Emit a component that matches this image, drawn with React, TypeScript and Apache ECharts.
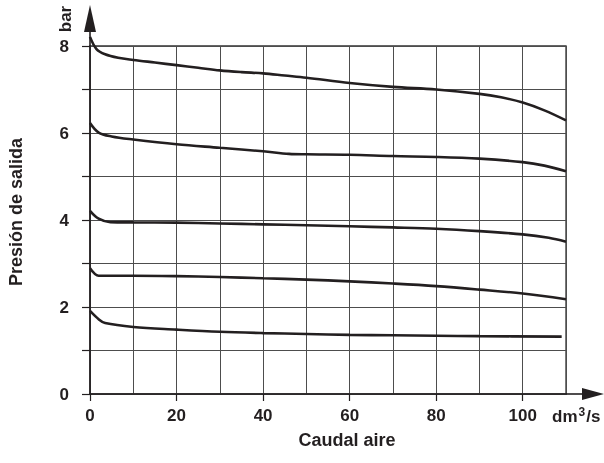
import React, { useEffect, useRef } from "react";
import * as echarts from "echarts";

// Axis ticks / labels
const xTickLabels = [0, 20, 40, 60, 80, 100];
const yTickLabels = [0, 2, 4, 6, 8];
const xMax = 110;
const yMax = 8;

// Curves: [caudal (dm3/s), presión (bar)]
const curve8: number[][] = [
  [0, 8.21], [1.5, 7.93], [3.5, 7.81], [6.5, 7.73], [10, 7.68], [15, 7.62], [20, 7.56],
  [25, 7.5], [30, 7.44], [35, 7.4], [40, 7.37], [45, 7.32], [50, 7.27], [60, 7.15],
  [70, 7.06], [80, 7.0], [90, 6.9], [95, 6.82], [100, 6.7], [105, 6.52], [110, 6.29],
];
const curve6: number[][] = [
  [0, 6.23], [2, 6.01], [5, 5.92], [10, 5.85], [20, 5.74], [30, 5.66], [40, 5.58],
  [46, 5.52], [50, 5.51], [60, 5.5], [70, 5.47], [80, 5.45], [90, 5.41], [100, 5.33], [105, 5.25], [110, 5.12],
];
const curve4: number[][] = [
  [0, 4.21], [2, 4.03], [4.7, 3.95], [10, 3.945], [20, 3.94], [30, 3.92], [40, 3.9],
  [50, 3.88], [60, 3.855], [70, 3.83], [80, 3.8], [90, 3.745], [100, 3.67], [106, 3.59], [110, 3.5],
];
const curve3: number[][] = [
  [0, 2.89], [2, 2.72], [4, 2.72], [10, 2.72], [20, 2.71], [30, 2.69], [40, 2.66],
  [50, 2.63], [60, 2.59], [70, 2.54], [80, 2.48], [90, 2.4], [100, 2.31], [110, 2.18],
];
const curve2: number[][] = [
  [0, 1.91], [2, 1.72], [3.5, 1.63], [10, 1.54], [20, 1.48], [30, 1.43], [40, 1.4],
  [50, 1.38], [60, 1.36], [70, 1.35], [80, 1.34], [90, 1.33], [109, 1.32],
];
const curves = [curve8, curve6, curve4, curve3, curve2];

const xName = "Caudal aire";
const yName = "Presión de salida";
const yUnit = "bar";

export default function App() {
  const ref = useRef<HTMLDivElement>(null);
  useEffect(() => {
    if (!ref.current) return;
    const chart = echarts.init(ref.current, null, { renderer: "svg" });
    const font = "'Liberation Sans', Arial, Helvetica, sans-serif";
    const ink = "#231f20";
    const gridColor = "#4d4d4d";
    const labelStyle = { fontSize: 17, fontWeight: "bold" as const, fontFamily: font, color: ink };

    chart.setOption({
      animation: false,
      grid: { left: 90, top: 46, width: 476, height: 348, show: true, borderColor: "#333", borderWidth: 1.3, backgroundColor: "transparent" },
      xAxis: [
        {
          type: "value", min: 0, max: xMax, interval: 10, position: "bottom",
          axisLine: { show: false }, axisTick: { show: false }, axisLabel: { show: false },
          splitLine: { show: true, lineStyle: { color: gridColor, width: 1 } },
        },
        {
          type: "value", min: 0, max: xMax, position: "bottom",
          axisLine: { show: true, onZero: false, lineStyle: { color: ink, width: 1.6 } },
          axisTick: { show: true, length: 7, customValues: xTickLabels, lineStyle: { color: ink, width: 1.2 } },
          axisLabel: { customValues: xTickLabels, margin: 13, ...labelStyle },
          splitLine: { show: false },
        },
      ],
      yAxis: {
        type: "value", min: 0, max: yMax, interval: 1,
        axisLine: { show: true, onZero: false, lineStyle: { color: ink, width: 1.6 } },
        axisTick: { show: true, length: 8, lineStyle: { color: ink, width: 1.2 } },
        axisLabel: { customValues: yTickLabels, margin: 21, ...labelStyle },
        splitLine: { show: true, lineStyle: { color: gridColor, width: 1 } },
      },
      series: curves.map((c) => ({
        type: "line", data: c, xAxisIndex: 0, yAxisIndex: 0, clip: false,
        symbol: "none", showSymbol: false, smooth: 0.35, silent: true,
        lineStyle: { color: ink, width: 2.6 },
      })),
    });

    const f = { xAxisIndex: 0, yAxisIndex: 0 };
    const o = chart.convertToPixel(f, [0, 0]) as number[];
    const t = chart.convertToPixel(f, [0, yMax]) as number[];
    const r = chart.convertToPixel(f, [xMax, 0]) as number[];
    const textStyle = (text: string, extra: any = {}) => ({
      text, fill: ink, fontSize: 18, fontWeight: "bold", fontFamily: font,
      align: "center", verticalAlign: "middle", ...extra,
    });

    chart.setOption({
      graphic: [
        { type: "line", shape: { x1: t[0], y1: t[1], x2: t[0], y2: t[1] - 16 }, style: { stroke: ink, lineWidth: 1.6 } },
        { type: "polygon", shape: { points: [[t[0], t[1] - 41], [t[0] - 6, t[1] - 14], [t[0] + 6, t[1] - 14]] }, style: { fill: ink } },
        { type: "line", shape: { x1: r[0], y1: r[1], x2: r[0] + 18, y2: r[1] }, style: { stroke: ink, lineWidth: 1.6 } },
        { type: "polygon", shape: { points: [[r[0] + 38, r[1]], [r[0] + 16, r[1] - 6], [r[0] + 16, r[1] + 6]] }, style: { fill: ink } },
        { type: "text", x: t[0] - 25, y: t[1] - 27, rotation: Math.PI / 2, style: textStyle(yUnit, { fontSize: 17 }) },
        {
          type: "text", x: r[0] - 14, y: r[1] + 22,
          style: {
            text: "{a|dm}{s|3}{a|/s}", align: "left", verticalAlign: "middle",
            rich: {
              a: { fontSize: 17, fontWeight: "bold", fontFamily: font, fill: ink, color: ink },
              s: { fontSize: 12, fontWeight: "bold", fontFamily: font, fill: ink, color: ink, padding: [0, 1, 8, 1] },
            },
          },
        },
        { type: "text", x: (o[0] + r[0]) / 2 + 19, y: o[1] + 46, style: textStyle(xName) },
        { type: "text", x: 16, y: (o[1] + t[1]) / 2 - 8, rotation: Math.PI / 2, style: textStyle(yName) },
      ],
    });

    return () => chart.dispose();
  }, []);
  return <div ref={ref} style={{ position: "fixed", left: 0, top: 0, width: 604, height: 463 }} />;
}
